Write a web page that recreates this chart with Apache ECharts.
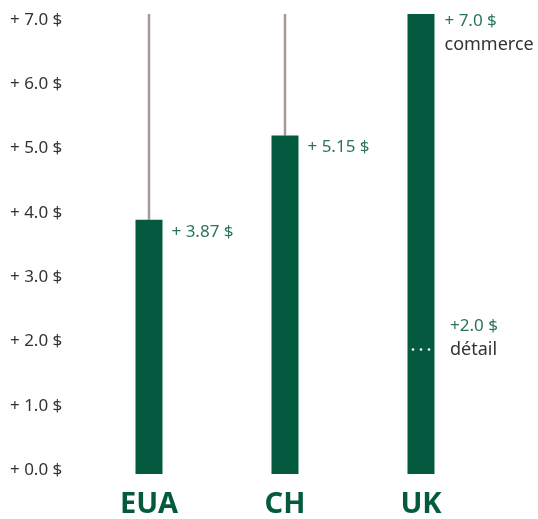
<!DOCTYPE html>
<html><head><meta charset="utf-8">
<script src="https://cdn.jsdelivr.net/npm/echarts@6/dist/echarts.min.js"></script>
<style>html,body{margin:0;padding:0;background:#fff}#c{width:538px;height:519px}</style>
</head><body><div id="c"></div>
<script>
const categories = ['EUA', 'CH', 'UK'];
const values = [3.87, 5.15, 7.0];
const valueLabels = ['+ 3.87 $', '+ 5.15 $', '+ 7.0 $'];
const valueNotes = ['', '', 'commerce'];
const rangeTop = [7.0, 7.0, null];
const detailIndex = 2;
const detailValue = 2.0;
const detailLabel = '+2.0 $';
const detailNote = 'détail';
const tickValues = [0, 1, 2, 3, 4, 5, 6, 7];
const tickLabels = ['+ 0.0 $', '+ 1.0 $', '+ 2.0 $', '+ 3.0 $', '+ 4.0 $', '+ 5.0 $', '+ 6.0 $', '+ 7.0 $'];

const GREEN = '#045a3f';
const TEXTGREEN = '#2a7556';
const FONT = '"Noto Sans", sans-serif';

const chart = echarts.init(document.getElementById('c'), null, {renderer: 'canvas'});

const barData = values.map((v, i) => {
  const note = valueNotes[i];
  return {
    value: v,
    label: note ? {
      formatter: '{a|' + valueLabels[i] + '}\n{b|' + note + '}',
      position: [37, -4], verticalAlign: 'top'
    } : {
      formatter: '{a|' + valueLabels[i] + '}',
      position: [36, 12], verticalAlign: 'middle'
    }
  };
});

const whiskerData = [];
values.forEach((v, i) => { if (rangeTop[i] != null && rangeTop[i] > v) whiskerData.push([i, v, rangeTop[i]]); });

chart.setOption({
  animation: false,
  grid: [
    {left: 81, right: 49, top: 14, bottom: 43},
    {left: 81, right: 49, top: 20, bottom: 49}
  ],
  xAxis: [
    {type: 'category', gridIndex: 0, data: categories,
     axisLine: {show: false}, axisTick: {show: false},
     axisLabel: {color: GREEN, fontFamily: FONT, fontWeight: 'bold', fontSize: 29, lineHeight: 29, margin: 16}},
    {type: 'value', gridIndex: 1, show: false, min: 0, max: 1}
  ],
  yAxis: [
    {type: 'value', gridIndex: 0, min: 0, max: 7, interval: 1, show: false},
    {type: 'value', gridIndex: 1, min: 0, max: 7, interval: 1,
     axisLine: {show: false}, axisTick: {show: false}, splitLine: {show: false},
     axisLabel: {align: 'left', margin: 71, color: '#333', fontFamily: FONT, fontSize: 17,
       formatter: v => tickLabels[tickValues.indexOf(v)]}}
  ],
  series: [
    {type: 'custom', xAxisIndex: 0, yAxisIndex: 0, data: whiskerData, z: 1,
     renderItem: (params, api) => {
       const a = api.coord([api.value(0), api.value(1)]);
       const b = api.coord([api.value(0), api.value(2)]);
       return {type: 'line', shape: {x1: a[0], y1: a[1], x2: b[0], y2: b[1]},
               style: {stroke: '#a69996', lineWidth: 2.5}};
     }},
    {type: 'bar', xAxisIndex: 0, yAxisIndex: 0, data: barData, barWidth: 27, z: 2,
     itemStyle: {color: GREEN},
     label: {show: true, align: 'left',
       rich: {a: {color: TEXTGREEN, fontFamily: FONT, fontSize: 17, lineHeight: 23},
              b: {color: '#333', fontFamily: FONT, fontSize: 18, lineHeight: 23}}}},
    {type: 'custom', xAxisIndex: 0, yAxisIndex: 0, data: [[detailIndex, detailValue]], z: 3,
     renderItem: (params, api) => {
       const p = api.coord([api.value(0), api.value(1)]);
       const y = p[1] + 7;
       const kids = [-8, 0, 8].map(dx => ({type: 'circle', shape: {cx: p[0] + dx, cy: y, r: 1.3}, style: {fill: '#fff'}}));
       kids.push({type: 'text', style: {x: p[0] + 29, y: y - 23, text: detailLabel, fill: TEXTGREEN, font: '17px ' + FONT, verticalAlign: 'middle', align: 'left'}});
       kids.push({type: 'text', style: {x: p[0] + 29, y: y, text: detailNote, fill: '#333', font: '18px ' + FONT, verticalAlign: 'middle', align: 'left'}});
       return {type: 'group', children: kids};
     }}
  ]
});
</script></body></html>
